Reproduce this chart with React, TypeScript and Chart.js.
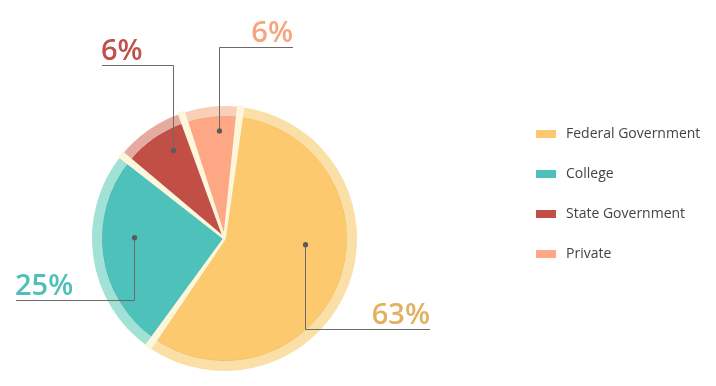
import React, { useEffect, useRef } from "react";
import { Chart, registerables } from "chart.js";

Chart.register(...registerables);

// ---- data ----
const categories = ["Federal Government", "College", "State Government", "Private"];
const sliceShares = [57.8, 26.1, 8.9, 7.2]; // drawn slice sizes
const shareLabels = [63, 25, 6, 6]; // percentages printed on the chart

// ---- styles ----
const sliceColors = ["#fdc96e", "#4ec1ba", "#c24f46", "#fea784"];
const ringColors = ["#fadfa6", "#a2e1d5", "#e5ab9e", "#f9cfb8"];
const edgeColors = ["#efbb62", "#46b4ad", "#b6473f", "#f19c79"];
const labelColors = ["#e2b05f", "#4fc0b8", "#c1504a", "#f7a47f"];
const gapColor = "#fbf6dc";

// leader layout: t = position along slice angle, r = fraction of pie radius,
// dy = elbow y offset from centre, dx = line end x offset from centre
const leaders = [
  { t: 0.42, r: 0.66, dy: 90, dx: 205 },
  { t: 0.59, r: 0.74, dy: 61, dx: -209 },
  { t: 0.65, r: 0.83, dy: -174, dx: -123 },
  { t: 0.61, r: 0.88, dy: -192, dx: 68 },
];

const legendLayout = { x: 536, y0: 134, gap: 40, box: 20, boxH: 8, textGap: 10 };

const decorPlugin = {
  id: "decor",
  afterDatasetsDraw(chart: any) {
    const ctx: CanvasRenderingContext2D = chart.ctx;
    const ringMeta = chart.getDatasetMeta(0);
    const pieMeta = chart.getDatasetMeta(1);
    const outerR = ringMeta.data[0].outerRadius;

    ctx.save();
    // cream gaps between slices
    pieMeta.data.forEach((arc: any) => {
      const { x, y, startAngle } = arc;
      const ux = Math.cos(startAngle);
      const uy = Math.sin(startAngle);
      const px = -uy;
      const py = ux;
      const w0 = 1.3;
      const w1 = 3.8;
      const R = outerR + 1.5;
      ctx.beginPath();
      ctx.moveTo(x + px * w0, y + py * w0);
      ctx.lineTo(x + ux * R + px * w1, y + uy * R + py * w1);
      ctx.lineTo(x + ux * R - px * w1, y + uy * R - py * w1);
      ctx.lineTo(x - px * w0, y - py * w0);
      ctx.closePath();
      ctx.fillStyle = gapColor;
      ctx.fill();
    });

    // leader lines, dots and percentage labels
    pieMeta.data.forEach((arc: any, i: number) => {
      const L = leaders[i];
      const ang = arc.startAngle + (arc.endAngle - arc.startAngle) * L.t;
      const rr = arc.outerRadius * L.r;
      const px = Math.round(arc.x + Math.cos(ang) * rr) + 0.5;
      const py = arc.y + Math.sin(ang) * rr;
      const ey = Math.round(arc.y + L.dy) + 0.5;
      const ex = Math.round(arc.x + L.dx);
      ctx.strokeStyle = "#6a6a6a";
      ctx.lineWidth = 1;
      ctx.beginPath();
      ctx.moveTo(px, py);
      ctx.lineTo(px, ey);
      ctx.lineTo(ex, ey);
      ctx.stroke();
      ctx.beginPath();
      ctx.arc(px, py, 2.6, 0, Math.PI * 2);
      ctx.fillStyle = "#5a5a5a";
      ctx.fill();

      ctx.font = '600 29px "Open Sans"';
      ctx.fillStyle = labelColors[i];
      ctx.textBaseline = "alphabetic";
      ctx.textAlign = L.dx > 0 ? "right" : "left";
      ctx.fillText(shareLabels[i] + "%", L.dx > 0 ? ex : ex - 1, ey - 6);
    });

    // legend
    categories.forEach((c, i) => {
      const cy = legendLayout.y0 + i * legendLayout.gap;
      ctx.fillStyle = sliceColors[i];
      ctx.fillRect(legendLayout.x, cy - legendLayout.boxH / 2, legendLayout.box, legendLayout.boxH);
      ctx.fillStyle = "#444444";
      ctx.font = '14px "Open Sans"';
      ctx.textAlign = "left";
      ctx.textBaseline = "middle";
      ctx.fillText(c, legendLayout.x + legendLayout.box + legendLayout.textGap, cy);
    });
    ctx.restore();
  },
};

export default function App() {
  const canvasRef = useRef<HTMLCanvasElement | null>(null);

  useEffect(() => {
    if (!canvasRef.current) return;
    const chart = new Chart(canvasRef.current, {
      type: "pie",
      data: {
        labels: categories,
        datasets: [
          {
            data: sliceShares,
            backgroundColor: ringColors,
            borderWidth: 0,
            weight: 10,
          } as any,
          {
            data: sliceShares,
            backgroundColor: sliceColors,
            borderColor: edgeColors,
            borderWidth: 1,
            weight: 122,
          } as any,
        ],
      },
      options: {
        animation: false,
        responsive: true,
        maintainAspectRatio: false,
        rotation: 7,
        layout: { padding: { left: 92, top: 106, right: 359, bottom: 15 } },
        plugins: {
          legend: { display: false },
          tooltip: { enabled: false },
        },
      },
      plugins: [decorPlugin],
    });
    return () => chart.destroy();
  }, []);

  return (
    <div style={{ position: "fixed", left: 0, top: 0, width: 716, height: 386, background: "#ffffff" }}>
      <canvas ref={canvasRef} />
    </div>
  );
}
